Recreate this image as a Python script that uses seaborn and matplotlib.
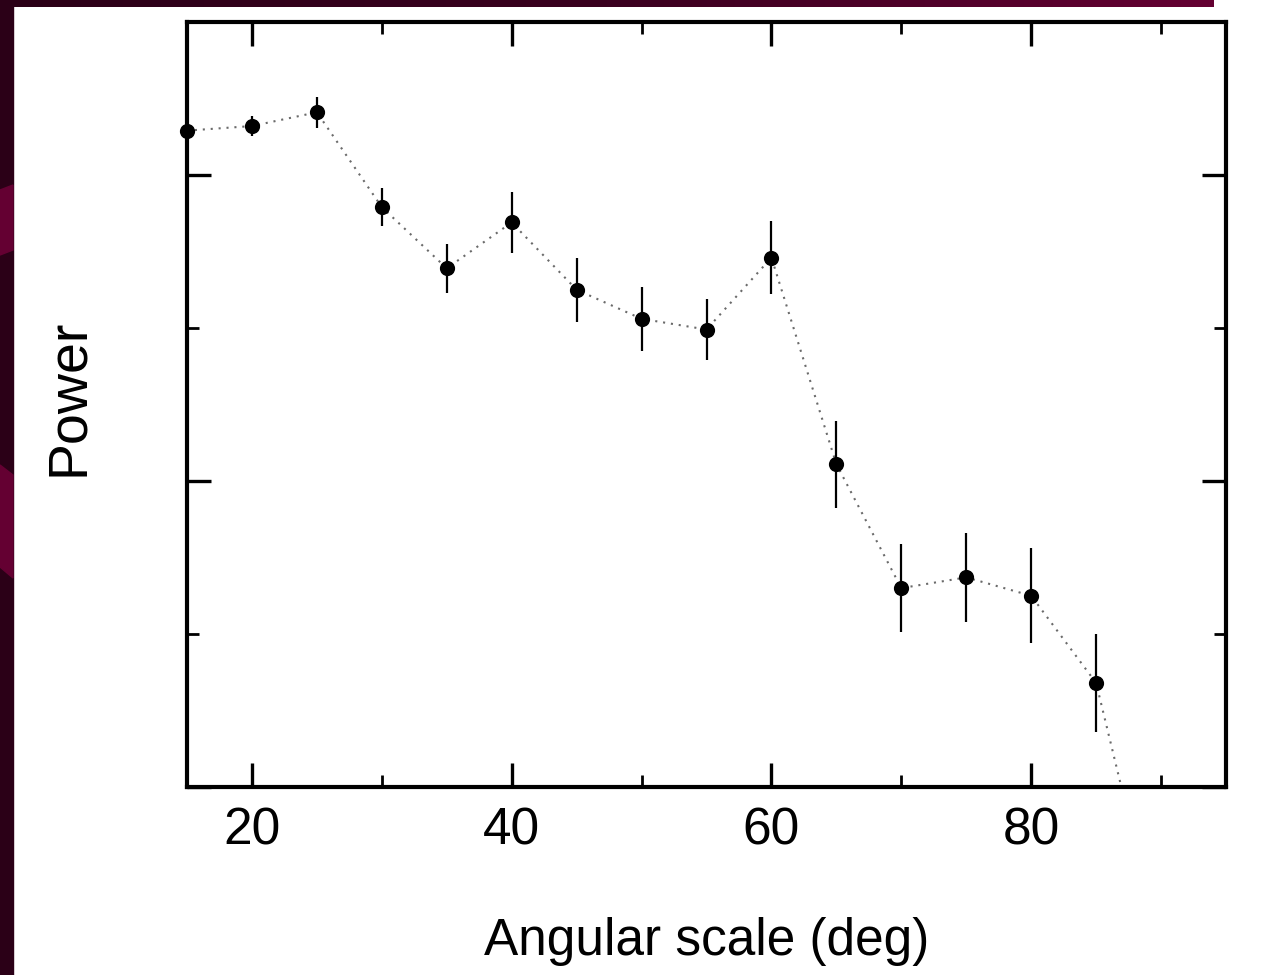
import numpy as np
import pandas as pd
import matplotlib
matplotlib.use("Agg")
import matplotlib.pyplot as plt
import seaborn as sns
from matplotlib.patches import Rectangle, Polygon
from matplotlib.ticker import MultipleLocator
from matplotlib.colors import LinearSegmentedColormap

# ---- data ----
angular_scale = [15, 20, 25, 30, 35, 40, 45, 50, 55, 60, 65, 70, 75, 80, 85, 90]
power = [4.29, 4.32, 4.41, 3.79, 3.39, 3.69, 3.25, 3.06, 2.99, 3.46, 2.11, 1.30, 1.37, 1.25, 0.68, -1.07]
power_err = [0.03, 0.065, 0.10, 0.125, 0.16, 0.20, 0.21, 0.21, 0.20, 0.24, 0.285, 0.29, 0.29, 0.31, 0.32, 0.35]
x_ticks = [20, 40, 60, 80]
x_label = "Angular scale (deg)"
y_label = "Power"

df = pd.DataFrame({"scale": angular_scale, "power": power, "err": power_err})

sns.set_theme(style="white")
plt.rcParams['font.family'] = ['Liberation Sans', 'DejaVu Sans']

W, H = 1288, 975
fig = plt.figure(figsize=(W / 100, H / 100), dpi=100)
fig.patch.set_facecolor("white")

# ---- slide background decoration (maroon frame on left and top) ----
dark = "#2b0017"
light = "#640032"
fig.add_artist(Rectangle((0, 0), 13 / W, 1, transform=fig.transFigure, color=dark, zorder=0))
band1 = [(0, 1 - 190 / H), (13 / W, 1 - 185 / H), (13 / W, 1 - 250 / H), (0, 1 - 255 / H)]
band2 = [(0, 1 - 465 / H), (13 / W, 1 - 475 / H), (13 / W, 1 - 578 / H), (0, 1 - 567 / H)]
for b in (band1, band2):
    fig.add_artist(Polygon(b, closed=True, transform=fig.transFigure, color=light, zorder=0.5))
ax_top = fig.add_axes([0, 1 - 7 / H, 1214 / W, 7 / H])
grad = np.linspace(0, 1, 256).reshape(1, -1)
cmap = LinearSegmentedColormap.from_list("maroon", [dark, "#3a001f", light])
ax_top.imshow(grad, aspect="auto", cmap=cmap)
ax_top.axis("off")

# ---- main axes ----
ax = fig.add_axes([187 / W, 1 - 787 / H, (1226 - 187) / W, (787 - 22) / H])
ax.set_facecolor("white")

sns.lineplot(data=df, x="scale", y="power", ax=ax, color="#6a6a6a", lw=1.5,
             linestyle=(0, (1, 2.8)), zorder=2)
ax.errorbar(df["scale"], df["power"], yerr=df["err"], fmt="none",
            ecolor="black", elinewidth=1.6, capsize=0, zorder=3)
visible = df[df["power"] >= 0]
sns.scatterplot(data=visible, x="scale", y="power", ax=ax, s=120, color="black",
                edgecolor="black", linewidth=0, zorder=5, clip_on=False)

ax.set_xlim(15, 95)
ax.set_ylim(0, 5)
ax.set_xticks(x_ticks)
ax.set_xticklabels([str(t) for t in x_ticks])
ax.xaxis.set_minor_locator(MultipleLocator(10))
ax.yaxis.set_major_locator(MultipleLocator(2))
ax.yaxis.set_minor_locator(MultipleLocator(1))

ax.tick_params(which="both", direction="in", top=True, right=True, bottom=True, left=True,
               labelleft=False, colors="black")
ax.tick_params(which="major", length=17, width=2.4, labelsize=37, pad=14)
ax.tick_params(which="minor", length=8.5, width=2.0)

for sp in ax.spines.values():
    sp.set_color("black")
    sp.set_linewidth(3)

ax.set_xlabel(x_label, fontsize=37, labelpad=44, color="black")
ax.set_ylabel(y_label, fontsize=40, color="black")
ax.yaxis.set_label_coords(-0.0885, 0.509)

fig.savefig("out.png", dpi=100, facecolor=fig.get_facecolor())
